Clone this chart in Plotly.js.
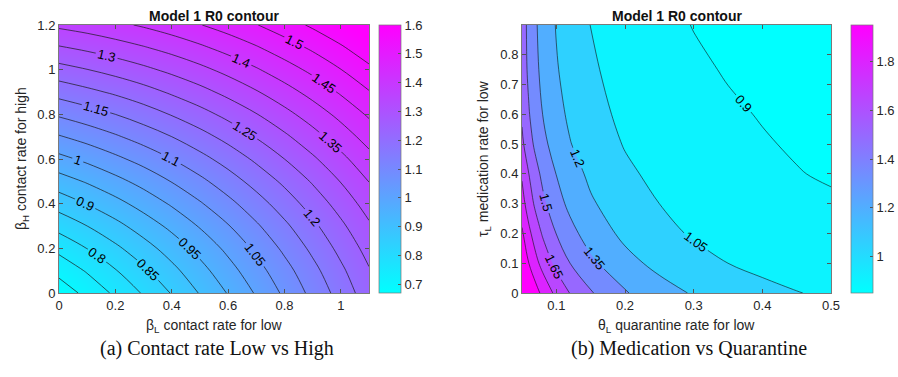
<!DOCTYPE html>
<html>
<head>
<meta charset="utf-8">
<script src="https://cdn.plot.ly/plotly-3.0.1.min.js"></script>
<style>html,body{margin:0;padding:0;background:#fff;}#chart{width:898px;height:377px;}</style>
</head>
<body>
<div id="chart"></div>
<script>
// ---------- data: panel (a) ----------
const betaL = [0, 0.1, 0.2, 0.3, 0.4, 0.5, 0.6, 0.7, 0.8, 0.9, 1.0, 1.1];
const betaH = [0, 0.1, 0.2, 0.3, 0.4, 0.5, 0.6, 0.7, 0.8, 0.9, 1.0, 1.1, 1.2];
// rows = betaH, columns = betaL
const r0Contact = [
  [0.670, 0.714, 0.759, 0.805, 0.853, 0.903, 0.953, 1.005, 1.059, 1.114, 1.170, 1.228],
  [0.715, 0.755, 0.797, 0.841, 0.886, 0.933, 0.981, 1.031, 1.082, 1.135, 1.190, 1.246],
  [0.764, 0.801, 0.840, 0.880, 0.922, 0.966, 1.012, 1.060, 1.110, 1.161, 1.214, 1.268],
  [0.817, 0.850, 0.885, 0.923, 0.962, 1.004, 1.047, 1.093, 1.140, 1.189, 1.240, 1.293],
  [0.871, 0.902, 0.934, 0.969, 1.006, 1.045, 1.086, 1.129, 1.174, 1.221, 1.270, 1.321],
  [0.928, 0.955, 0.985, 1.017, 1.052, 1.088, 1.127, 1.168, 1.210, 1.255, 1.302, 1.351],
  [0.986, 1.011, 1.039, 1.068, 1.100, 1.134, 1.170, 1.209, 1.250, 1.292, 1.337, 1.384],
  [1.046, 1.069, 1.094, 1.121, 1.150, 1.182, 1.216, 1.253, 1.291, 1.332, 1.375, 1.420],
  [1.107, 1.128, 1.150, 1.175, 1.203, 1.232, 1.264, 1.298, 1.335, 1.373, 1.414, 1.457],
  [1.169, 1.188, 1.208, 1.231, 1.257, 1.284, 1.314, 1.346, 1.380, 1.417, 1.456, 1.497],
  [1.232, 1.249, 1.268, 1.289, 1.312, 1.337, 1.365, 1.395, 1.428, 1.462, 1.499, 1.539],
  [1.296, 1.311, 1.328, 1.347, 1.368, 1.392, 1.418, 1.446, 1.477, 1.509, 1.544, 1.582],
  [1.360, 1.373, 1.389, 1.406, 1.426, 1.448, 1.472, 1.498, 1.527, 1.558, 1.591, 1.627]
];
const contactTicksX = [0, 0.2, 0.4, 0.6, 0.8, 1];
const contactTicksY = [0, 0.2, 0.4, 0.6, 0.8, 1, 1.2];

// ---------- data: panel (b) ----------
const theta = [0.05, 0.06, 0.07, 0.08, 0.1, 0.12, 0.15, 0.2, 0.25, 0.3, 0.35, 0.4, 0.45, 0.5];
const tau = [0, 0.1, 0.2, 0.3, 0.4, 0.5, 0.6, 0.75, 0.9];
// rows = tau, columns = theta
const r0Medication = [
  [2.247, 2.116, 2.006, 1.912, 1.761, 1.645, 1.513, 1.362, 1.260, 1.187, 1.132, 1.089, 1.055, 1.027],
  [2.082, 1.950, 1.842, 1.751, 1.608, 1.500, 1.380, 1.247, 1.159, 1.097, 1.050, 1.014, 0.986, 0.962],
  [1.973, 1.835, 1.725, 1.635, 1.497, 1.395, 1.285, 1.166, 1.089, 1.036, 0.996, 0.966, 0.942, 0.923],
  [1.859, 1.723, 1.618, 1.533, 1.406, 1.315, 1.218, 1.115, 1.050, 1.006, 0.973, 0.948, 0.929, 0.913],
  [1.781, 1.650, 1.548, 1.467, 1.347, 1.261, 1.171, 1.075, 1.016, 0.975, 0.945, 0.922, 0.904, 0.890],
  [1.680, 1.558, 1.466, 1.392, 1.283, 1.206, 1.126, 1.042, 0.989, 0.953, 0.927, 0.907, 0.891, 0.879],
  [1.628, 1.510, 1.420, 1.350, 1.246, 1.174, 1.098, 1.019, 0.971, 0.937, 0.913, 0.895, 0.881, 0.869],
  [1.585, 1.469, 1.381, 1.312, 1.212, 1.142, 1.070, 0.994, 0.948, 0.916, 0.893, 0.876, 0.862, 0.852],
  [1.578, 1.456, 1.365, 1.294, 1.192, 1.121, 1.048, 0.974, 0.928, 0.897, 0.875, 0.858, 0.845, 0.834]
];
const medTicksX = [0.1, 0.2, 0.3, 0.4, 0.5];
const medTicksY = [0, 0.1, 0.2, 0.3, 0.4, 0.5, 0.6, 0.7, 0.8];

// ---------- styling ----------
const W = 898, H = 377;
const fx = p => p / W;
const fy = p => 1 - p / H;
function cool(t) {
  t = Math.max(0, Math.min(1, t));
  return 'rgb(' + Math.round(255 * t) + ',' + Math.round(255 * (1 - t)) + ',255)';
}
const coolScale = [[0, cool(0)], [1, cool(1)]];

// panel (b): MATLAB-style contourf band colours (band coloured by its lower level)
const medMin = 0.85, medMax = 1.95;
const lvStart = 0.9, lvSize = 0.15, nLv = 8;
const bandScale = [[0, cool(0)]];
for (let i = 0; i < nLv; i++) {
  const lv = lvStart + i * lvSize;
  bandScale.push([(i + 1) / nLv, cool((lv - medMin) / (medMax - medMin))]);
}

const tickFont = {family: 'Arial, Liberation Sans, sans-serif', size: 13, color: '#262626'};
const labelFont = {family: 'Arial, Liberation Sans, sans-serif', size: 13, color: '#000'};
const yTop = 25, yBot = 293;

function cbar(xpx, tick0, dtick) {
  return {
    x: fx(xpx), xanchor: 'left', xpad: 0, ypad: 0,
    y: fy(yTop), yanchor: 'top', len: (yBot - yTop) / H, lenmode: 'fraction',
    thickness: 22, thicknessmode: 'pixels',
    outlinewidth: 0.7, outlinecolor: '#777',
    tickmode: 'linear', tick0: tick0, dtick: dtick,
    ticks: 'inside', ticklen: 3, tickcolor: '#555',
    tickfont: tickFont
  };
}

const traces = [
  {
    type: 'heatmap', x: betaL, y: betaH, z: r0Contact, zsmooth: 'best',
    colorscale: coolScale, zmin: 0.67, zmax: 1.6, xaxis: 'x', yaxis: 'y',
    colorbar: cbar(379, 0.7, 0.1), hoverinfo: 'skip'
  },
  {
    type: 'contour', x: betaL, y: betaH, z: r0Contact, xaxis: 'x', yaxis: 'y',
    autocontour: false,
    contours: {start: 0.7, end: 1.55, size: 0.05, coloring: 'none', showlabels: true, labelfont: labelFont},
    line: {color: '#1a1a1a', width: 0.7, smoothing: 1}, showscale: false, hoverinfo: 'skip'
  },
  {
    type: 'heatmap', x: theta, y: tau, z: r0Medication,
    colorscale: coolScale, zmin: medMin, zmax: medMax, xaxis: 'x2', yaxis: 'y2',
    colorbar: cbar(851, 1, 0.2), hoverinfo: 'skip'
  },
  {
    type: 'contour', x: theta, y: tau, z: r0Medication, xaxis: 'x2', yaxis: 'y2',
    autocontour: false,
    contours: {start: lvStart, end: 1.95, size: lvSize, coloring: 'fill', showlabels: true, labelfont: labelFont},
    colorscale: bandScale, showscale: false,
    line: {color: '#111', width: 0.6, smoothing: 1}, hoverinfo: 'skip'
  }
];

function axisStyle(extra) {
  return Object.assign({
    showgrid: false, zeroline: false, showline: true, linecolor: '#7a7a7a', linewidth: 1,
    mirror: 'ticks', ticks: 'inside', ticklen: 4, tickcolor: '#555', tickfont: tickFont,
    tickmode: 'array', fixedrange: true
  }, extra);
}

const annFont = {family: 'Arial, Liberation Sans, sans-serif', size: 14, color: '#262626'};
const capFont = {family: 'Liberation Serif, DejaVu Serif, serif', size: 20, color: '#111'};
const titleFont = {family: 'Arial, Liberation Sans, sans-serif', size: 14, color: '#111'};
const cxA = (59 + 369) / 2, cxB = (522 + 831) / 2;

const layout = {
  width: W, height: H, margin: {l: 0, r: 0, t: 0, b: 0},
  paper_bgcolor: '#fff', plot_bgcolor: '#fff', showlegend: false,
  font: {family: 'Arial, Liberation Sans, sans-serif'},
  xaxis: axisStyle({domain: [fx(59), fx(369)], range: [0, 1.1], tickvals: contactTicksX, anchor: 'y'}),
  yaxis: axisStyle({domain: [fy(yBot), fy(yTop)], range: [0, 1.2], tickvals: contactTicksY, anchor: 'x'}),
  xaxis2: axisStyle({domain: [fx(522), fx(831)], range: [0.05, 0.5], tickvals: medTicksX, anchor: 'y2'}),
  yaxis2: axisStyle({domain: [fy(yBot), fy(yTop)], range: [0, 0.9], tickvals: medTicksY, anchor: 'x2'}),
  annotations: [
    {text: '<b>Model 1 R0 contour</b>', x: fx(cxA), y: fy(16), xref: 'paper', yref: 'paper', showarrow: false, xanchor: 'center', yanchor: 'middle', font: titleFont},
    {text: '<b>Model 1 R0 contour</b>', x: fx(cxB), y: fy(16), xref: 'paper', yref: 'paper', showarrow: false, xanchor: 'center', yanchor: 'middle', font: titleFont},
    {text: 'β<sub>L</sub> contact rate for low', x: fx(cxA), y: fy(326), xref: 'paper', yref: 'paper', showarrow: false, xanchor: 'center', yanchor: 'middle', font: annFont},
    {text: 'θ<sub>L</sub> quarantine rate for low', x: fx(cxB), y: fy(326), xref: 'paper', yref: 'paper', showarrow: false, xanchor: 'center', yanchor: 'middle', font: annFont},
    {text: 'β<sub>H</sub> contact rate for high', x: fx(22), y: fy(159), xref: 'paper', yref: 'paper', showarrow: false, textangle: -90, xanchor: 'center', yanchor: 'middle', font: annFont},
    {text: 'τ<sub>L</sub> medication rate for low', x: fx(484), y: fy(159), xref: 'paper', yref: 'paper', showarrow: false, textangle: -90, xanchor: 'center', yanchor: 'middle', font: annFont},
    {text: '(a) Contact rate Low vs High', x: fx(217), y: fy(348), xref: 'paper', yref: 'paper', showarrow: false, xanchor: 'center', yanchor: 'middle', font: capFont},
    {text: '(b) Medication vs Quarantine', x: fx(689), y: fy(348), xref: 'paper', yref: 'paper', showarrow: false, xanchor: 'center', yanchor: 'middle', font: capFont}
  ]
};

Plotly.newPlot('chart', traces, layout, {displayModeBar: false, staticPlot: true});
</script>
</body>
</html>
